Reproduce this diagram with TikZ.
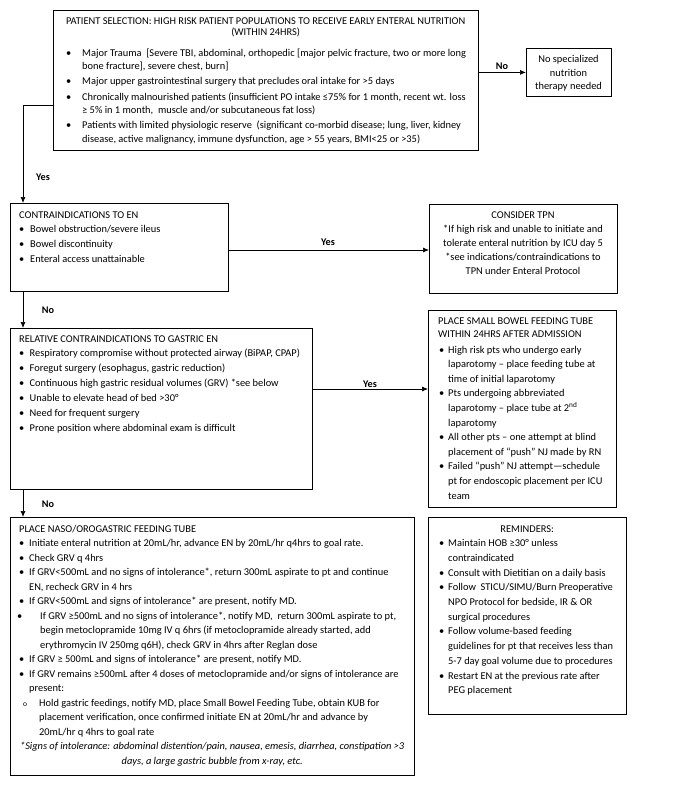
\documentclass[tikz,border=0pt]{standalone}
\usepackage{fontspec}
\setmainfont{Carlito}
\usetikzlibrary{arrows.meta,calc}
\newcommand\itm[4]{\par\noindent\hangindent=#2pt\hangafter=1\hspace*{#1pt}\makebox[\dimexpr#2pt-#1pt\relax][l]{#3}#4}
\newcommand\bl[3]{\itm{#1}{#2}{\textbullet}{#3}}
\newcommand\fz[1]{\fontsize{10.4}{#1}\selectfont}
\begin{document}
\begin{tikzpicture}[x=1pt,y=-1pt,
  box/.style={draw, line width=0.8pt, anchor=north west, inner sep=0pt},
  tx/.style={anchor=base west, inner sep=0pt},
  tc/.style={anchor=base, inner sep=0pt},
  lbl/.style={inner sep=0pt, font=\fontsize{10.2}{11}\selectfont\bfseries},
  arr/.style={-{Latex[length=6pt,width=5pt]}, line width=0.7pt}]
\useasboundingbox (0,0) rectangle (674,789);
% boxes
\node[box, minimum width=425pt, minimum height=140pt] (sel) at (53,10) {};
\node[box, minimum width=85pt, minimum height=48pt] (none) at (526,48) {};
\node[box, minimum width=218pt, minimum height=88pt] (contra) at (10,203) {};
\node[box, minimum width=188pt, minimum height=89pt] (tpn) at (429,204) {};
\node[box, minimum width=302pt, minimum height=161pt] (rel) at (10,328) {};
\node[box, minimum width=188pt, minimum height=197pt] (sb) at (428,310) {};
\node[box, minimum width=404pt, minimum height=258pt] (ng) at (10,517) {};
\node[box, minimum width=198pt, minimum height=197pt] (rem) at (428,517) {};
% texts
\node[tx] (selt) at (53,25) {\begin{minipage}[t]{465pt}\fz{11}
{\leftskip=0pt plus 1fil\rightskip=40pt plus 1fil\parfillskip=0pt\noindent PATIENT SELECTION: HIGH RISK PATIENT POPULATIONS TO RECEIVE EARLY ENTERAL NUTRITION\par
\noindent (WITHIN 24HRS)\par}
\fz{13.5}\setlength\parskip{1.7pt}\vspace{5.1pt}
\bl{13}{29}{Major Trauma~~[Severe TBI, abdominal, orthopedic [major pelvic fracture, two or more long\newline bone fracture], severe chest, burn]}
\bl{13}{29}{Major upper gastrointestinal surgery that precludes oral intake for >5 days}
\bl{13}{29}{Chronically malnourished patients (insufficient PO intake ≤75\% for 1 month, recent wt. loss\newline ≥ 5\% in 1 month,~ muscle and/or subcutaneous fat loss)}
\bl{13}{29}{Patients with limited physiologic reserve~ (significant co-morbid disease; lung, liver, kidney\newline disease, active malignancy, immune dysfunction, age > 55 years, BMI<25 or >35)}
\end{minipage}};
\node[tc] (nonet) at (568.5,63) {\begin{minipage}[t]{85pt}\centering\fz{13.3}No specialized\\nutrition\\therapy needed\end{minipage}};
\node[tx] (contrat) at (10,218) {\begin{minipage}[t]{248pt}\fz{14.8}
\noindent\hspace*{9pt}CONTRAINDICATIONS TO EN
\bl{9}{20}{Bowel obstruction/severe ileus}
\bl{9}{20}{Bowel discontinuity}
\bl{9}{20}{Enteral access unattainable}
\end{minipage}};
\node[tc] (tpnt) at (523,218) {\begin{minipage}[t]{188pt}\centering\fz{14}
CONSIDER TPN\\{}*If high risk and unable to initiate and\\{}tolerate enteral nutrition by ICU day 5\\{}*see indications/contraindications to\\{}TPN under Enteral Protocol\end{minipage}};
\node[tx] (relt) at (10,342) {\begin{minipage}[t]{332pt}\fz{14.95}
\noindent\hspace*{9pt}RELATIVE CONTRAINDICATIONS TO GASTRIC EN
\bl{9}{19.5}{Respiratory compromise without protected airway (BiPAP, CPAP)}
\bl{9}{19.5}{Foregut surgery (esophagus, gastric reduction)}
\bl{9}{19.5}{Continuous high gastric residual volumes (GRV) *see below}
\bl{9}{19.5}{Unable to elevate head of bed >30°}
\bl{9}{19.5}{Need for frequent surgery}
\bl{9}{19.5}{Prone position where abdominal exam is difficult}
\end{minipage}};
\node[tx] (sbt) at (428,324.7) {\begin{minipage}[t]{218pt}\fz{12.6}
{\leftskip=10pt\noindent PLACE SMALL BOWEL FEEDING TUBE\newline WITHIN 24HRS AFTER ADMISSION\par}
\fz{14.6}\vspace{1.1pt}
\bl{11}{20}{High risk pts who undergo early\newline laparotomy – place feeding tube at\newline time of initial laparotomy}
\bl{11}{20}{Pts undergoing abbreviated\newline laparotomy – place tube at 2\textsuperscript{nd}\newline laparotomy}
\bl{11}{20}{All other pts – one attempt at blind\newline placement of “push” NJ made by RN}
\bl{11}{20}{Failed “push” NJ attempt—schedule\newline pt for endoscopic placement per ICU\newline team}
\end{minipage}};
\node[tx] (ngt) at (10,532) {\begin{minipage}[t]{404pt}\fz{14.5}
\noindent\hspace*{9pt}PLACE NASO/OROGASTRIC FEEDING TUBE
\bl{9}{19}{Initiate enteral nutrition at 20mL/hr, advance EN by 20mL/hr q4hrs to goal rate.}
\bl{9}{19}{Check GRV q 4hrs}
\bl{9}{19}{If GRV<500mL and no signs of intolerance*, return 300mL aspirate to pt and continue\newline EN, recheck GRV in 4 hrs}
\bl{9}{19}{If GRV<500mL and signs of intolerance* are present, notify MD.}
\bl{7}{30}{If GRV ≥500mL and no signs of intolerance*, notify MD,~ return 300mL aspirate to pt,\newline begin metoclopramide 10mg IV q 6hrs (if metoclopramide already started, add\newline erythromycin IV 250mg q6H), check GRV in 4hrs after Reglan dose}
\bl{9}{19}{If GRV ≥ 500mL and signs of intolerance* are present, notify MD.}
\bl{9}{19}{If GRV remains ≥500mL after 4 doses of metoclopramide and/or signs of intolerance are\newline present:}
\itm{13}{29}{{\fontsize{7.5}{7.5}\selectfont o}}{Hold gastric feedings, notify MD, place Small Bowel Feeding Tube, obtain KUB for\newline placement verification, once confirmed initiate EN at 20mL/hr and advance by\newline 20mL/hr q 4hrs to goal rate}
\par{\centering\itshape *Signs of intolerance: abdominal distention/pain, nausea, emesis, diarrhea, constipation >3\\days, a large gastric bubble from x-ray, etc.\par}
\end{minipage}};
\node[tx] (remt) at (428,532) {\begin{minipage}[t]{198pt}\fz{14.7}
{\centering REMINDERS:\par}
\bl{11}{20}{Maintain HOB ≥30° unless\newline contraindicated}
\bl{11}{20}{Consult with Dietitian on a daily basis}
\bl{11}{20}{Follow~ STICU/SIMU/Burn Preoperative\newline NPO Protocol for bedside, IR \& OR\newline surgical procedures}
\bl{11}{20}{Follow volume-based feeding\newline guidelines for pt that receives less than\newline 5-7 day goal volume due to procedures}
\bl{11}{20}{Restart EN at the previous rate after\newline PEG placement}
\end{minipage}};
% labels
\node[lbl] (lno1) at (502,66) {No};
\node[lbl] (lyes1) at (43,177) {Yes};
\node[lbl] (lyes2) at (328,242) {Yes};
\node[lbl] (lno2) at (48,310) {No};
\node[lbl] (lyes3) at (370,384) {Yes};
\node[lbl] (lno3) at (48,504) {No};
% connectors
\draw[arr] (sel.east |- none.west) -- (none.west);
\draw[arr] ($(sel.north west)+(0,95)$) -| ($(contra.north west)+(13,0)$);
\draw[arr] ($(contra.north east)+(0,47)$) -- ($(tpn.north west)+(0,46)$);
\draw[arr] ($(contra.south west)+(13,0)$) -- ($(rel.north west)+(13,0)$);
\draw[arr] ($(rel.north east)+(0,61)$) -- ($(sb.north west)+(0,79)$);
\draw[arr] ($(rel.south west)+(13,0)$) -- ($(ng.north west)+(13,0)$);
\end{tikzpicture}
\end{document}
